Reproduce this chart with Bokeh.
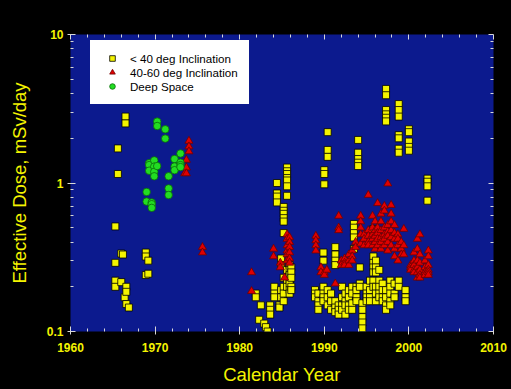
from bokeh.plotting import figure
from bokeh.models import Range1d, FixedTicker, LogAxis, LinearAxis, CustomJSTickFormatter
from bokeh.embed import file_html
from bokeh.resources import INLINE

# ---- data: (calendar year, [effective dose mSv/day, ...]) ----
low_incl = [
    (1965.3, [0.51, 0.29, 0.22, 0.20]), (1965.6, [1.71, 1.15]),
    (1966.0, [0.335, 0.215]), (1966.2, [0.33]), (1966.5, [2.80, 2.52]),
    (1966.4, [0.17]), (1966.6, [0.20, 0.185, 0.153]), (1966.9, [0.145]),
    (1968.9, [0.34, 0.32, 0.24]), (1969.2, [0.30, 0.245]),
    (1981.9, [0.18, 0.17]), (1982.3, [0.12]), (1982.5, [0.15]),
    (1982.9, [0.113]), (1983.1, [0.107]), (1983.3, [0.10]),
    (1983.6, [0.15, 0.14, 0.13]), (1984.1, [0.20, 0.18, 0.17]),
    (1984.4, [1.0, 0.85, 0.81, 0.74]), (1984.7, [0.15, 0.145]),
    (1984.9, [0.31, 0.28, 0.19, 0.17]),
    (1985.2, [0.69, 0.65, 0.62, 0.58, 0.55, 0.46, 0.23, 0.20, 0.18, 0.16]),
    (1985.6, [1.27, 1.20, 1.15, 1.08, 1.04, 0.95, 0.82, 0.26, 0.22, 0.20]),
    (1985.9, [0.28, 0.26, 0.24, 0.22, 0.21, 0.19, 0.18]),
    (1986.1, [0.27, 0.25, 0.23, 0.20, 0.19]),
    (1988.9, [0.19, 0.18, 0.17]), (1989.3, [0.18, 0.16, 0.15, 0.14]),
    (1989.9, [0.34, 0.30, 0.20, 0.18, 0.17, 0.16]),
    (1990.0, [1.22, 1.15, 0.98]), (1990.4, [2.2, 1.67, 1.5, 0.19, 0.17, 0.15]),
    (1990.8, [0.18, 0.16, 0.14]),
    (1991.3, [0.37, 0.33, 0.30, 0.28, 0.16, 0.145, 0.135]),
    (1991.7, [0.15, 0.14, 0.13]), (1992.1, [0.20, 0.17, 0.15, 0.14]),
    (1992.5, [0.18, 0.16, 0.15, 0.13]), (1992.9, [0.19, 0.17, 0.15, 0.14]),
    (1993.3, [0.20, 0.18, 0.155, 0.14]), (1993.5, [0.53, 0.50, 0.46, 0.43, 0.36]),
    (1993.8, [0.20, 0.19, 0.17, 0.16]), (1994.0, [1.95, 1.6, 1.45, 1.37, 1.3]),
    (1994.2, [0.27, 0.21, 0.20]), (1994.5, [0.155, 0.14, 0.125, 0.115, 0.105]),
    (1995.0, [0.20, 0.18, 0.17, 0.16]), (1995.4, [0.22, 0.19, 0.17, 0.16]),
    (1995.8, [0.49, 0.46, 0.32, 0.29, 0.27, 0.25, 0.22, 0.20]),
    (1996.1, [0.30, 0.27, 0.25, 0.20, 0.18, 0.16]),
    (1996.5, [0.26, 0.22, 0.20, 0.18, 0.17]), (1996.9, [0.21, 0.19, 0.17, 0.16]),
    (1997.3, [4.3, 3.9, 3.1, 2.9, 2.75, 2.6, 0.19, 0.17, 0.15, 0.14]),
    (1997.8, [0.22, 0.20, 0.18, 0.16, 0.15]), (1998.3, [0.21, 0.18, 0.17]),
    (1998.8, [3.4, 3.1, 2.8, 2.1, 2.0, 1.7, 1.6, 0.22, 0.20]),
    (1999.6, [0.19, 0.17, 0.16]), (2000.0, [2.3, 2.2, 1.9, 1.75, 1.65]),
    (2002.2, [1.07, 1.02, 0.95, 0.76]),
]
mid_incl = [
    (1973.5, [1.16]), (1973.7, [1.43, 1.27, 1.16]), (1974.0, [1.92, 1.76, 1.63]),
    (1975.6, [0.37, 0.34]), (1981.4, [0.25, 0.187]), (1984.0, [0.36, 0.32]),
    (1984.8, [0.29, 0.27]), (1985.3, [0.23]),
    (1985.6, [0.45, 0.42, 0.38, 0.35, 0.33, 0.30]),
    (1985.9, [0.43, 0.40, 0.37, 0.34, 0.31, 0.29]),
    (1989.0, [0.44, 0.41, 0.38, 0.35]), (1989.6, [0.27, 0.25]),
    (1990.0, [0.25, 0.24]), (1990.3, [0.26]), (1991.3, [0.21]),
    (1991.7, [0.60, 0.50, 0.48]), (1992.0, [0.30, 0.28]),
    (1992.4, [0.31, 0.29, 0.28]), (1992.9, [0.33, 0.30, 0.28]),
    (1993.3, [0.35, 0.32, 0.30]), (1993.7, [0.40, 0.37]),
    (1994.3, [0.60, 0.55, 0.50, 0.45, 0.39]), (1994.7, [0.45, 0.42, 0.38]),
    (1995.2, [0.83, 0.48, 0.44, 0.40, 0.38]), (1995.7, [0.60, 0.50, 0.45, 0.42, 0.38]),
    (1996.0, [0.55, 0.48, 0.44, 0.40, 0.36]), (1996.3, [0.73, 0.50, 0.46, 0.42, 0.38]),
    (1996.7, [0.62, 0.55, 0.48, 0.43, 0.40, 0.36]),
    (1997.1, [0.70, 0.65, 0.50, 0.45, 0.42, 0.38]),
    (1997.5, [0.99, 0.52, 0.47, 0.44, 0.40, 0.35]),
    (1997.9, [0.71, 0.62, 0.55, 0.48, 0.43, 0.38]),
    (1998.3, [0.52, 0.46, 0.42, 0.36, 0.32]), (1998.7, [0.45, 0.42, 0.38, 0.30]),
    (1999.1, [0.40, 0.36, 0.33]), (1999.4, [0.49, 0.38, 0.33]),
    (2000.2, [0.28, 0.27, 0.26]), (2000.6, [0.34, 0.30, 0.28, 0.26, 0.25]),
    (2001.0, [0.42, 0.36, 0.30, 0.27, 0.25, 0.23]),
    (2001.3, [0.45, 0.33, 0.29, 0.26, 0.24, 0.23]),
    (2001.9, [0.30, 0.27, 0.25, 0.24]),
    (2002.3, [0.35, 0.32, 0.28, 0.26, 0.25, 0.24]),
]
deep_space = [
    (1969.0, [0.87, 0.75]), (1969.3, [1.36, 1.32, 1.21]), (1969.6, [0.74, 0.72, 0.68]),
    (1969.9, [1.42, 1.29, 1.19, 1.11]), (1970.25, [2.59, 2.42, 1.30]),
    (1971.2, [2.30, 1.99]), (1971.6, [1.11, 0.92, 0.83]),
    (1972.3, [1.45, 1.29, 1.22]), (1973.0, [1.58, 1.37, 1.32, 1.28]),
]
series_labels = ["< 40 deg Inclination", "40-60 deg Inclination", "Deep Space"]
x_ticks = [1960, 1970, 1980, 1990, 2000, 2010]
y_ticks = [0.1, 1, 10]
y_tick_labels = {0.1: "0.1", 1: "1", 10: "10"}


def flatten(groups):
    xs, ys = [], []
    for yr, doses in groups:
        for d in doses:
            xs.append(yr)
            ys.append(d)
    return xs, ys


x_minor = [v for v in range(1960, 2011, 2) if v not in x_ticks]
y_minor = [m * 0.1 for m in range(2, 10)] + [float(m) for m in range(2, 10)]

BLUE = "#0c1a8e"
YEL = "#f4f400"
TICK = "#d8d8d8"
FONT = "Liberation Sans"

p = figure(width=511, height=389, y_axis_type="log",
           x_range=Range1d(1960, 2010), y_range=Range1d(0.1, 10),
           output_backend="svg", toolbar_location=None,
           background_fill_color=BLUE, border_fill_color="black",
           outline_line_color=None,
           min_border_left=70, min_border_right=18,
           min_border_top=34, min_border_bottom=58)
p.xgrid.visible = False
p.ygrid.visible = False

xt = FixedTicker(ticks=x_ticks, minor_ticks=x_minor)
yt = FixedTicker(ticks=y_ticks, minor_ticks=y_minor)

for ax in [p.xaxis[0], p.yaxis[0]]:
    ax.axis_line_color = None
    ax.major_tick_line_color = TICK
    ax.minor_tick_line_color = TICK
    ax.major_tick_in = 5
    ax.major_tick_out = 3
    ax.minor_tick_in = 3
    ax.minor_tick_out = 0
    ax.major_label_text_font = FONT
    ax.major_label_text_font_style = "bold"
    ax.major_label_text_font_size = "12px"
    ax.major_label_text_color = YEL
    ax.axis_label_text_font = FONT
    ax.axis_label_text_font_style = "normal"
    ax.axis_label_text_font_size = "18.5px"
    ax.axis_label_text_color = YEL

p.xaxis[0].ticker = xt
p.yaxis[0].ticker = yt
p.yaxis[0].major_label_overrides = y_tick_labels
p.xaxis[0].axis_label = "Calendar Year"
p.yaxis[0].axis_label = "Effective Dose, mSv/day"
p.xaxis[0].major_label_standoff = 8
p.xaxis[0].axis_label_standoff = 9
p.yaxis[0].major_label_standoff = 4
p.yaxis[0].axis_label_standoff = 14

top = LinearAxis(ticker=xt, formatter=CustomJSTickFormatter(code="return ''"))
right = LogAxis(ticker=yt, formatter=CustomJSTickFormatter(code="return ''"))
for ax in [top, right]:
    ax.axis_line_color = None
    ax.major_tick_line_color = TICK
    ax.minor_tick_line_color = TICK
    ax.major_tick_in = 5
    ax.major_tick_out = 0
    ax.minor_tick_in = 3
    ax.minor_tick_out = 0
    ax.major_label_standoff = 0
p.add_layout(top, "above")
p.add_layout(right, "right")

lx, ly = flatten(low_incl)
mx, my = flatten(mid_incl)
dx, dy = flatten(deep_space)

p.scatter(lx, ly, marker="square", size=7, fill_color=YEL, line_color="black",
          line_width=0.8, legend_label=series_labels[0])
p.scatter(mx, my, marker="triangle", size=8, fill_color="#e00000", line_color="#700000",
          line_width=0.8, legend_label=series_labels[1])
p.scatter(dx, dy, marker="circle", size=7.5, fill_color="#22dd22", line_color="#0a6a0a",
          line_width=0.8, legend_label=series_labels[2])

lg = p.legend[0]
lg.location = (20, 227)
lg.margin = 0
lg.padding = 0
lg.spacing = 0
lg.glyph_width = 22
lg.glyph_height = 14
lg.label_height = 14
lg.label_standoff = 7
lg.label_text_font = FONT
lg.label_text_font_size = "11.6px"
lg.label_text_color = "black"
lg.background_fill_color = "white"
lg.background_fill_alpha = 1.0
lg.border_line_color = "white"
lg.border_line_width = 11
lg.border_line_join = "miter"

html = file_html(p, INLINE)
html = html.replace("</head>", "<style>html,body{background:#000;}</style></head>", 1)
open("out.html", "w").write(html)
